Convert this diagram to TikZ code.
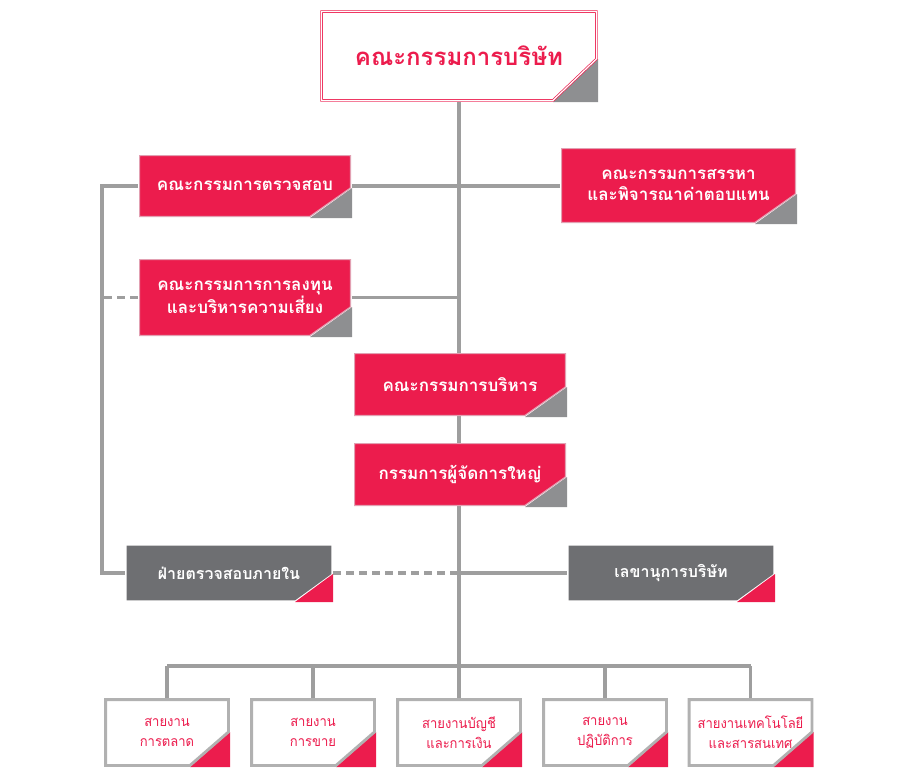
\documentclass[tikz,border=0pt]{standalone}
\usepackage{fontspec}
\newfontfamily\thaifont[Script=Thai]{Loma}
\newfontfamily\thainarrow[Script=Thai, FakeStretch=0.93]{Loma}
\usetikzlibrary{calc, backgrounds}

\definecolor{boardred}{RGB}{236,28,77}
\definecolor{boardpink}{RGB}{226,160,178}
\definecolor{unitgrey}{RGB}{110,111,114}
\definecolor{cornergrey}{RGB}{142,143,145}
\definecolor{linegrey}{RGB}{158,158,158}
\newcommand{\boxinset}{1.6pt}

\tikzset{
  corner cut/.code 2 args={\def\cutx{#1}\def\cuty{#2}},
  cutbox/.style n args={3}{rectangle, inner sep=0pt, align=center, corner cut={42pt}{30pt},
    path picture={
      \coordinate (pSW) at (path picture bounding box.south west);
      \coordinate (pNE) at (path picture bounding box.north east);
      \coordinate (pSE) at (pSW-|pNE);
      \fill[#2] (pSE) -- ($(pSE)+(0pt,\cuty)$) -- ($(pSE)+(-\cutx,0pt)$) -- cycle;
      \filldraw[fill=#1, #3] ($(pSW)+(\boxinset,\boxinset)$) -- ($(pSW|-pNE)+(\boxinset,-\boxinset)$)
        -- ($(pNE)+(-\boxinset,-\boxinset)$) -- ($(pSE)+(-\boxinset,\cuty)$) -- ($(pSE)+(-\cutx,\boxinset)$) -- cycle;
    }},
  titlebox/.style={cutbox={white}{cornergrey}{draw=boardred, line width=0.7pt, double=white, double distance=1.2pt},
    corner cut={45pt}{43pt}, minimum width=278pt, minimum height=92pt, text=boardred,
    font=\thaifont\bfseries\fontsize{24}{29}\selectfont},
  boardbox/.style={cutbox={boardred}{cornergrey}{draw=boardpink, line width=1.2pt}, minimum width=214pt,
    text=white, font=\thaifont\bfseries\fontsize{17}{21}\selectfont},
  unitbox/.style={cutbox={unitgrey}{boardred}{draw=none}, corner cut={38pt}{28pt}, minimum width=208pt,
    minimum height=58pt, text=white, font=\thaifont\bfseries\fontsize{16}{21}\selectfont},
  linebox/.style={cutbox={white}{boardred}{draw=linegrey!80!white, line width=2.8pt}, corner cut={40pt}{35pt},
    minimum width=126pt, minimum height=69pt, text=boardred, font=\thainarrow\fontsize{14}{20}\selectfont},
  orgline/.style={linegrey, line width=3.5pt},
  orgdash/.style={orgline, dash pattern=on 8pt off 5pt}
}

\begin{document}
\begin{tikzpicture}[x=1pt, y=-1pt]
    \useasboundingbox (0,0) rectangle (908,774);

    \node[titlebox] (board) at (459,56) {คณะกรรมการบริษัท};
    \node[boardbox, minimum height=64pt] (audit) at (245,186) {คณะกรรมการตรวจสอบ};
    \node[boardbox, minimum width=237pt, minimum height=77pt] (nomination) at (678.5,185.5) {คณะกรรมการสรรหา\\และพิจารณาค่าตอบแทน};
    \node[boardbox, minimum height=79pt] (risk) at (245,297.5) {คณะกรรมการการลงทุน\\และบริหารความเสี่ยง};
    \node[boardbox, minimum height=65pt] (exec) at (460,384.5) {คณะกรรมการบริหาร};
    \node[boardbox, minimum height=65pt] (ceo) at (460,474.5) {กรรมการผู้จัดการใหญ่};
    \node[unitbox] (internal) at (229,573) {ฝ่ายตรวจสอบภายใน};
    \node[unitbox] (secretary) at (671,573) {เลขานุการบริษัท};

    \node[linebox] (marketing) at (167,732.5) {สายงาน\\การตลาด};
    \node[linebox] (sales) at (313,732.5) {สายงาน\\การขาย};
    \node[linebox] (finance) at (459,732.5) {สายงานบัญชี\\และการเงิน};
    \node[linebox] (operation) at (605,732.5) {สายงาน\\ปฏิบัติการ};
    \node[linebox] (tech) at (750.5,732.5) {สายงานเทคโนโลยี\\และสารสนเทศ};

    \coordinate (bus) at (459,666);
    \coordinate (spine) at (102,0);

    \begin{scope}[on background layer]
        \draw[orgline] (board.south) -- (bus);% main line
        \draw[orgline] (audit.east) -- (audit.east -| nomination.west);
        \draw[orgline] (risk.east) -- (risk.east -| board.south);
        \draw[orgline] (audit.west) -- (audit.west -| spine) |- (internal.west);
        \draw[orgdash] (risk.west) -- (risk.west -| spine);
        \draw[orgdash] (internal.east) -- (internal.east -| board.south);
        \draw[orgline] (secretary.west -| board.south) -- (secretary.west);
        \draw[orgline] (marketing.north |- bus) -- (tech.north |- bus);
        \foreach \unit in {marketing, sales, finance, operation, tech}
            \draw[orgline] (\unit.north |- bus) -- (\unit.north);
    \end{scope}
\end{tikzpicture}
\end{document}
